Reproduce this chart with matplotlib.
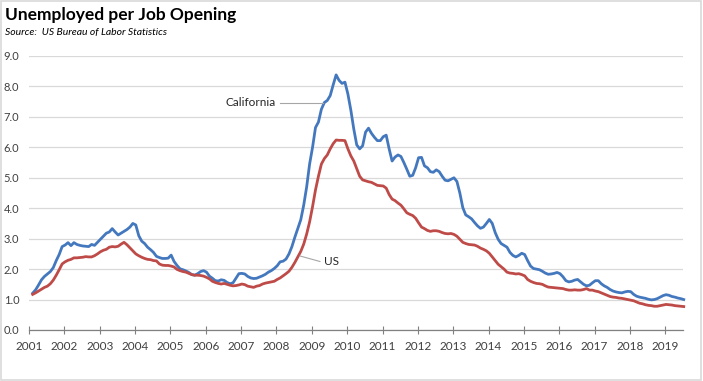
import matplotlib
matplotlib.use("Agg")
import matplotlib.pyplot as plt
import numpy as np
from matplotlib.patches import Rectangle

# monthly values, Jan 2001 .. Jun 2019
california = [
    1.21, 1.32, 1.48, 1.65, 1.76, 1.84, 1.92, 2.05, 2.28, 2.48, 2.74, 2.79,
    2.87, 2.77, 2.87, 2.81, 2.78, 2.76, 2.75, 2.74, 2.81, 2.78, 2.88, 2.98,
    3.08, 3.18, 3.22, 3.33, 3.22, 3.12, 3.18, 3.24, 3.30, 3.38, 3.50, 3.45,
    3.10, 2.92, 2.84, 2.72, 2.64, 2.55, 2.42, 2.38, 2.35, 2.35, 2.36, 2.46,
    2.25, 2.12, 2.01, 1.98, 1.94, 1.89, 1.82, 1.80, 1.85, 1.92, 1.95, 1.90,
    1.77, 1.70, 1.62, 1.61, 1.65, 1.63, 1.56, 1.52, 1.55, 1.70, 1.85, 1.86,
    1.84, 1.76, 1.71, 1.69, 1.70, 1.74, 1.78, 1.83, 1.90, 1.95, 2.02, 2.11,
    2.24, 2.26, 2.33, 2.50, 2.74, 3.05, 3.33, 3.62, 4.10, 4.70, 5.45, 6.00,
    6.65, 6.83, 7.25, 7.47, 7.54, 7.70, 8.05, 8.38, 8.20, 8.10, 8.14, 7.75,
    7.22, 6.60, 6.08, 5.95, 6.05, 6.50, 6.63, 6.46, 6.33, 6.22, 6.22, 6.35,
    6.40, 5.95, 5.55, 5.68, 5.75, 5.70, 5.50, 5.28, 5.05, 5.08, 5.33, 5.66,
    5.67, 5.39, 5.33, 5.20, 5.18, 5.26, 5.20, 5.05, 4.92, 4.90, 4.95, 5.00,
    4.88, 4.50, 4.02, 3.78, 3.72, 3.65, 3.53, 3.42, 3.34, 3.38, 3.50, 3.63,
    3.50, 3.20, 2.98, 2.84, 2.78, 2.72, 2.55, 2.45, 2.40, 2.45, 2.52, 2.48,
    2.28, 2.10, 2.02, 2.00, 1.98, 1.93, 1.87, 1.83, 1.84, 1.86, 1.89, 1.85,
    1.75, 1.62, 1.58, 1.60, 1.64, 1.66, 1.58, 1.50, 1.45, 1.47, 1.55, 1.62,
    1.62, 1.52, 1.45, 1.40, 1.33, 1.28, 1.25, 1.23, 1.22, 1.25, 1.27, 1.26,
    1.17, 1.11, 1.08, 1.06, 1.04, 1.01, 0.99, 1.00, 1.03, 1.08, 1.13, 1.16,
    1.14, 1.10, 1.08, 1.05, 1.03, 1.00,
]
us = [
    1.17, 1.22, 1.28, 1.34, 1.40, 1.44, 1.52, 1.64, 1.80, 1.98, 2.17, 2.24,
    2.29, 2.32, 2.37, 2.37, 2.38, 2.39, 2.41, 2.40, 2.40, 2.44, 2.50, 2.57,
    2.62, 2.65, 2.72, 2.74, 2.73, 2.75, 2.82, 2.88, 2.80, 2.70, 2.60, 2.50,
    2.44, 2.39, 2.35, 2.32, 2.31, 2.28, 2.27, 2.17, 2.13, 2.12, 2.12, 2.10,
    2.07, 1.99, 1.95, 1.92, 1.90, 1.86, 1.82, 1.80, 1.80, 1.79, 1.77, 1.73,
    1.68, 1.60, 1.56, 1.53, 1.51, 1.53, 1.50, 1.47, 1.45, 1.46, 1.48, 1.51,
    1.49, 1.44, 1.42, 1.40, 1.44, 1.46, 1.51, 1.54, 1.56, 1.58, 1.60, 1.66,
    1.71, 1.78, 1.85, 1.93, 2.06, 2.22, 2.40, 2.58, 2.82, 3.15, 3.55, 4.05,
    4.60, 5.05, 5.45, 5.63, 5.75, 5.95, 6.12, 6.24, 6.23, 6.23, 6.22, 5.95,
    5.72, 5.55, 5.30, 5.05, 4.93, 4.90, 4.87, 4.85, 4.80, 4.75, 4.74, 4.73,
    4.66, 4.45, 4.30, 4.25, 4.17, 4.10, 3.98, 3.85, 3.80, 3.76, 3.67, 3.52,
    3.38, 3.33, 3.27, 3.24, 3.26, 3.26, 3.24, 3.20, 3.17, 3.16, 3.17, 3.14,
    3.08, 2.98, 2.88, 2.84, 2.81, 2.80, 2.79, 2.75, 2.69, 2.65, 2.60, 2.52,
    2.40, 2.28, 2.16, 2.08, 2.00, 1.90, 1.87, 1.86, 1.84, 1.85, 1.82, 1.78,
    1.66, 1.60, 1.56, 1.53, 1.52, 1.50, 1.45, 1.41, 1.40, 1.39, 1.38, 1.37,
    1.36, 1.33, 1.31, 1.31, 1.32, 1.31, 1.31, 1.33, 1.36, 1.31, 1.31, 1.28,
    1.26, 1.22, 1.18, 1.14, 1.10, 1.08, 1.07, 1.05, 1.04, 1.02, 1.00, 0.98,
    0.96, 0.92, 0.88, 0.86, 0.83, 0.81, 0.80, 0.78, 0.78, 0.80, 0.82, 0.84,
    0.83, 0.82, 0.80, 0.79, 0.78, 0.77,
]
years = list(range(2001, 2020))
y_ticks = [0, 1, 2, 3, 4, 5, 6, 7, 8, 9]

W, H = 703, 381
plt.rcParams["font.family"] = ["Lato", "DejaVu Sans"]
fig = plt.figure(figsize=(W / 100, H / 100), dpi=100)

# plot area in pixel terms
left, right, top, bottom = 29, 683, 56, 330
ax = fig.add_axes([left / W, 1 - bottom / H, (right - left) / W, (bottom - top) / H])

t = 2001 + (np.arange(len(california)) + 1.25) / 12
ax.plot(t, california, color="#4478BE", lw=2.0, solid_joinstyle="round", clip_on=False)
ax.plot(t, us, color="#BE4B48", lw=2.0, solid_joinstyle="round", clip_on=False)

ax.set_xlim(2001, 2019.5)
ax.set_ylim(0, 9)
ax.set_yticks(y_ticks)
ax.set_yticklabels([f"{v:.1f}" for v in y_ticks], fontsize=8, color="#404040")
ax.set_xticks(years)
ax.set_xticklabels([str(y) for y in years], fontsize=8.5, color="#404040")
ax.tick_params(axis="y", length=0, pad=7)
ax.tick_params(axis="x", direction="inout", length=6, width=0.8, color="#808080", pad=5)
ax.grid(axis="y", color="#D9D9D9", lw=0.9)
ax.set_axisbelow(True)
for s in ["top", "right", "left"]:
    ax.spines[s].set_visible(False)
ax.spines["bottom"].set_color("#808080")
ax.spines["bottom"].set_linewidth(0.9)

# series labels with leader lines
ax.plot([2008.1, 2009.32], [7.47, 7.47], color="#A6A6A6", lw=0.8)
ax.text(2007.99, 7.47, "California", ha="right", va="center", fontsize=8.5, color="#262626")
ax.plot([2008.67, 2009.23], [2.43, 2.25], color="#A6A6A6", lw=0.8)
ax.text(2009.35, 2.25, "US", ha="left", va="center", fontsize=8.5, color="#262626")

fig.text(5 / W, 1 - 15 / H, "Unemployed per Job Opening", fontsize=12.5,
         fontweight="bold", ha="left", va="center", color="black")
fig.text(5 / W, 1 - 32 / H, "Source:  US Bureau of Labor Statistics", fontsize=7.5,
         style="italic", ha="left", va="center", color="black")

fig.patches.append(Rectangle((0.5 / W, 1.5 / H), 700 / W, (H - 2) / H, transform=fig.transFigure,
                             fill=False, edgecolor="#D9D9D9", lw=1.2))

fig.savefig("out.png", dpi=100)
